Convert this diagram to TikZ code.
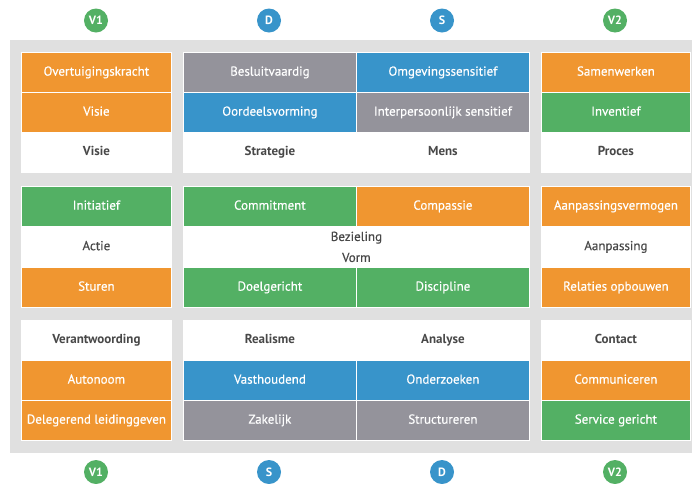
\documentclass[tikz,border=0pt]{standalone}
\usepackage{fontspec}
\setmainfont{PT Sans}
\newfontfamily\medfont[FakeBold=0.35]{PT Sans}
\definecolor{cOrange}{HTML}{F09630}
\definecolor{cBlue}{HTML}{3894CA}
\definecolor{cGray}{HTML}{94939B}
\definecolor{cGreen}{HTML}{53B064}
\definecolor{cBack}{HTML}{E0E0E0}
\definecolor{cText}{HTML}{484848}

\begin{document}
\begin{tikzpicture}[x=1pt,y=-1pt,
            cell/.style={rectangle,draw=white,line width=0.8pt,inner sep=0pt,
                anchor=north west,minimum height=40pt,text=white,
                text height=9.5pt,text depth=3pt,
                font=\medfont\fontsize{13}{15}\selectfont},
            narrow/.style={minimum width=150pt},
            half/.style={minimum width=173pt},
            orange/.style={cell,fill=cOrange},
            blue/.style={cell,fill=cBlue},
            grey/.style={cell,fill=cGray},
            green/.style={cell,fill=cGreen},
            plain/.style={cell,fill=white,text=cText},
            head/.style={plain,font=\bfseries\fontsize{13}{15}\selectfont},
            badge/.style={circle,minimum size=24pt,inner sep=0pt,text=white,
                font=\bfseries\fontsize{12}{14}\selectfont}]
        \fill[white] (0,0) rectangle (692,483);
        \useasboundingbox (0,0) rectangle (692,483);
        \fill[cBack] (10,40) rectangle (692,453);

        % top block
        \node[orange,narrow] (overtuiging) at (21,52) {Overtuigingskracht};
        \node[orange,narrow] (visieA) at (21,92) {Visie};
        \node[head,narrow] (visie) at (21,132) {Visie};
        \node[grey,half] (besluit) at (183,52) {Besluitvaardig};
        \node[blue,half] (oordeel) at (183,92) {Oordeelsvorming};
        \node[head,half] (strategie) at (183,132) {Strategie};
        \node[blue,half] (omgeving) at (356,52) {Omgevingssensitief};
        \node[grey,half] (interpers) at (356,92) {Interpersoonlijk sensitief};
        \node[head,half] (mens) at (356,132) {Mens};
        \node[orange,minimum width=149pt] (samen) at (541,52) {Samenwerken};
        \node[green,minimum width=149pt] (inventief) at (541,92) {Inventief};
        \node[head,minimum width=149pt] (proces) at (541,132) {Proces};

        % middle block
        \node[green,narrow] (initiatief) at (21,186) {Initiatief};
        \node[plain,narrow] (actie) at (21,226.5) {Actie};
        \node[orange,narrow] (sturen) at (21,267) {Sturen};
        \node[green,half] (commitment) at (183,186) {Commitment};
        \node[orange,half] (compassie) at (356,186) {Compassie};
        \node[plain,minimum width=346pt,align=center,text height=,text depth=,
            font=\medfont\fontsize{13}{21}\selectfont] (bezieling) at (183,226.5) {Bezieling\\Vorm};
        \node[green,half] (doelgericht) at (183,267) {Doelgericht};
        \node[green,half] (discipline) at (356,267) {Discipline};
        \node[orange,minimum width=149pt] (aanpasvermogen) at (541,186) {Aanpassingsvermogen};
        \node[plain,minimum width=149pt] (aanpassing) at (541,226.5) {Aanpassing};
        \node[orange,minimum width=149pt] (relaties) at (541,267) {Relaties opbouwen};

        % bottom block
        \node[head,narrow] (verantw) at (21,320) {Verantwoording};
        \node[orange,narrow] (autonoom) at (21,360) {Autonoom};
        \node[orange,narrow] (delegerend) at (21,400) {Delegerend leidinggeven};
        \node[head,half] (realisme) at (183,320) {Realisme};
        \node[blue,half] (vasthoudend) at (183,360) {Vasthoudend};
        \node[grey,half] (zakelijk) at (183,400) {Zakelijk};
        \node[head,half] (analyse) at (356,320) {Analyse};
        \node[blue,half] (onderzoeken) at (356,360) {Onderzoeken};
        \node[grey,half] (structureren) at (356,400) {Structureren};
        \node[head,minimum width=149pt] (contact) at (541,320) {Contact};
        \node[orange,minimum width=149pt] (communiceren) at (541,360) {Communiceren};
        \node[green,minimum width=149pt] (service) at (541,400) {Service gericht};

        % badges
        \node[badge,fill=cGreen] (v1top) at (96,20.5) {V1};
        \node[badge,fill=cBlue] (dtop) at (269,20.5) {D};
        \node[badge,fill=cBlue] (stop) at (442,20.5) {S};
        \node[badge,fill=cGreen] (v2top) at (615,20.5) {V2};
        \node[badge,fill=cGreen] (v1bot) at (96,472) {V1};
        \node[badge,fill=cBlue] (sbot) at (269,472) {S};
        \node[badge,fill=cBlue] (dbot) at (442,472) {D};
        \node[badge,fill=cGreen] (v2bot) at (615,472) {V2};
    \end{tikzpicture}
\end{document}
